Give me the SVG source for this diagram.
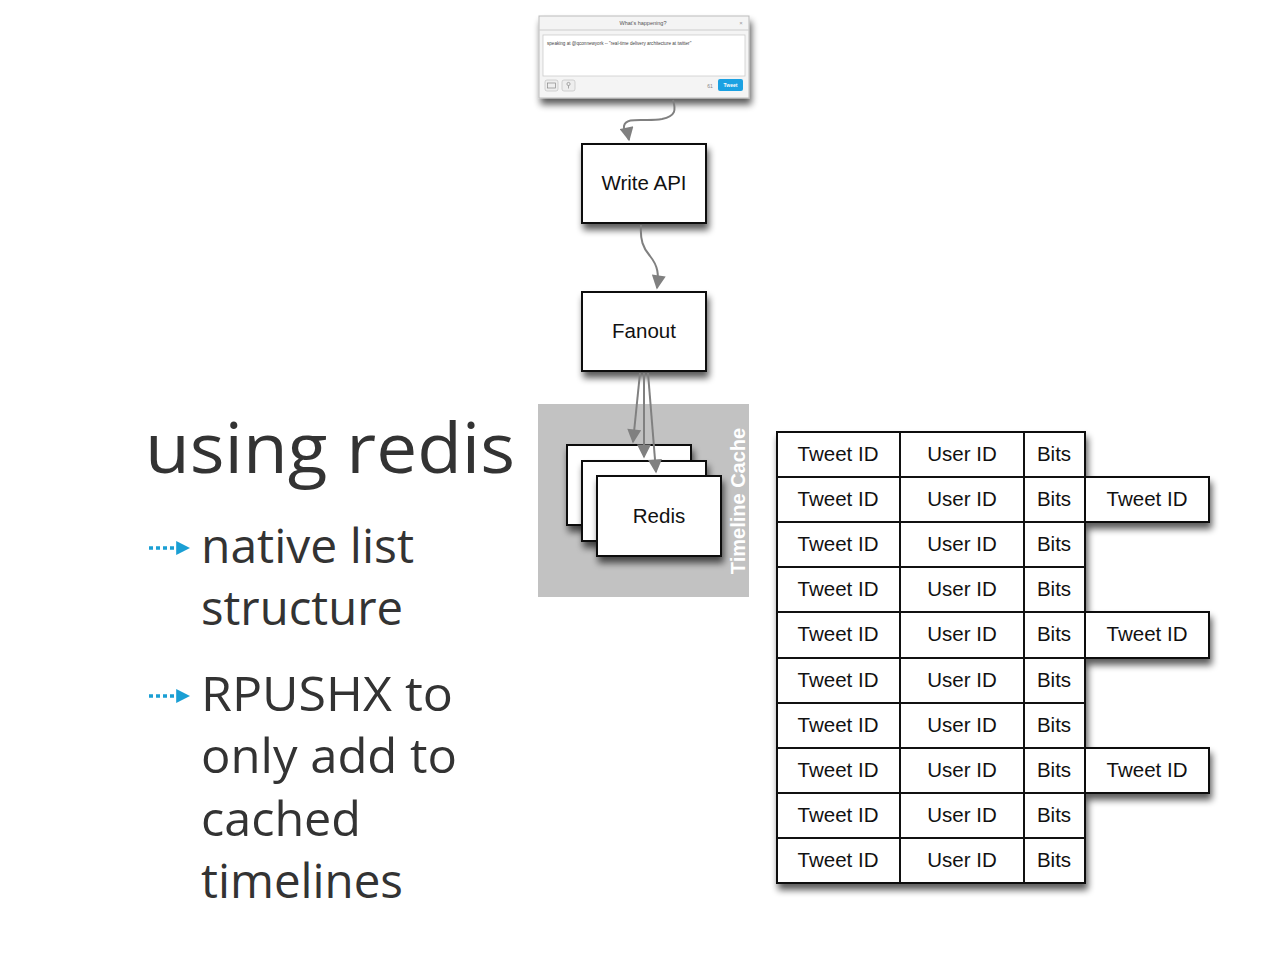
<svg xmlns="http://www.w3.org/2000/svg" width="1288" height="966" viewBox="0 0 1288 966">
<defs>
<filter id="sh" x="-20%" y="-20%" width="140%" height="150%">
<feGaussianBlur in="SourceAlpha" stdDeviation="3.5"/>
<feOffset dx="2" dy="6" result="b"/>
<feComponentTransfer><feFuncA type="linear" slope="0.65"/></feComponentTransfer>
<feMerge><feMergeNode/><feMergeNode in="SourceGraphic"/></feMerge>
</filter>
<marker id="ah" viewBox="0 0 10 10" refX="9" refY="5" markerWidth="8" markerHeight="7" orient="auto" markerUnits="strokeWidth">
<path d="M0,0 L10,5 L0,10 z" fill="#808080"/>
</marker>
<marker id="bh" viewBox="0 0 10 10" refX="2" refY="5" markerWidth="4" markerHeight="4.5" orient="auto" markerUnits="strokeWidth">
<path d="M0,0 L10,5 L0,10 z" fill="#1a9fd4"/>
</marker>
</defs>
<style>
.box{fill:#fff;stroke:#111;stroke-width:2}
.lbl{font-family:"Liberation Sans",Arial,sans-serif;font-size:20.5px;fill:#111;text-anchor:middle}
.cell{font-family:"Liberation Sans",Arial,sans-serif;font-size:20.5px;fill:#111;text-anchor:middle}
.con{fill:none;stroke:#808080;stroke-width:2;marker-end:url(#ah)}
.big{font-family:"Open Sans","DejaVu Sans",sans-serif;fill:#333}
.bul{fill:none;stroke:#1a9fd4;stroke-width:3.5;stroke-dasharray:4 3;marker-end:url(#bh)}
.tc{fill:none;stroke:#111;stroke-width:2}
</style>
<rect width="1288" height="966" fill="#fff"/>

<!-- Tweet box -->
<g id="tweetbox">
<rect x="539" y="16" width="210" height="82" fill="#f4f4f4" stroke="#bbb" stroke-width="1" filter="url(#sh)"/>
<line x1="539" y1="30" x2="749" y2="30" stroke="#ccc" stroke-width="1"/>
<text x="643" y="25" font-family="Liberation Sans,Arial,sans-serif" font-size="5.5" fill="#555" text-anchor="middle">What's happening?</text>
<text x="741" y="25" font-family="Liberation Sans,Arial,sans-serif" font-size="6" fill="#999" text-anchor="middle">×</text>
<rect x="543" y="35" width="202" height="41" fill="#fff" stroke="#ccc" stroke-width="0.8"/>
<text x="547" y="45" font-family="Liberation Sans,Arial,sans-serif" font-size="4.6" fill="#444">speaking at @qconnewyork -- "real-time delivery architecture at twitter"</text>
<rect x="545" y="80" width="13" height="11" rx="2" fill="#eee" stroke="#bbb" stroke-width="0.6"/>
<rect x="547.5" y="83" width="8" height="5" fill="none" stroke="#888" stroke-width="0.7"/>
<rect x="562" y="80" width="13" height="11" rx="2" fill="#eee" stroke="#bbb" stroke-width="0.6"/>
<circle cx="568.5" cy="84" r="1.6" fill="none" stroke="#888" stroke-width="0.7"/>
<line x1="568.5" y1="85.5" x2="568.5" y2="88.5" stroke="#888" stroke-width="0.7"/>
<text x="710" y="88" font-family="Liberation Sans,Arial,sans-serif" font-size="5" fill="#888" text-anchor="middle">61</text>
<rect x="718" y="79" width="25" height="12" rx="2" fill="#1ba1e2"/>
<text x="730.5" y="87" font-family="Liberation Sans,Arial,sans-serif" font-size="5" font-weight="bold" fill="#fff" text-anchor="middle">Tweet</text>
</g>

<!-- Write API -->
<g id="writeapi">
<rect class="box" x="582" y="144" width="124" height="79" filter="url(#sh)"/>
<text class="lbl" x="644" y="190">Write API</text>
</g>

<!-- Fanout -->
<g id="fanout">
<rect class="box" x="582" y="292" width="124" height="79" filter="url(#sh)"/>
<text class="lbl" x="644" y="338">Fanout</text>
</g>

<!-- Timeline cache -->
<g id="timelinecache">
<rect x="538" y="404" width="211" height="193" fill="#c2c2c2"/>
<text transform="translate(745,501) rotate(-90)" font-family="Liberation Sans,Arial,sans-serif" font-size="20" font-weight="bold" fill="#fff" text-anchor="middle">Timeline Cache</text>
</g>

<g id="redis">
<rect class="box" x="567" y="445" width="124" height="80" filter="url(#sh)"/>
<rect class="box" x="582" y="461" width="124" height="80" filter="url(#sh)"/>
<rect class="box" x="597" y="476" width="124" height="80" filter="url(#sh)"/>
<text class="lbl" x="659" y="523">Redis</text>
</g>

<!-- Connectors -->
<g id="connectors">
<path class="con" d="M673,100 C676,110 676,116 662,119 C645,122 626,116 624,126 C623,131 628,135 629,140"/>
<path class="con" d="M641,225 C640,240 643,248 650,256 C658,266 659,274 657,288"/>
<path class="con" d="M640,373 L633,442"/>
<path class="con" d="M644,373 L644,457"/>
<path class="con" d="M648,373 L656,472"/>
</g>

<!-- Table -->
<g id="table">
<g filter="url(#sh)">
<rect x="1085" y="477" width="124" height="45" class="box"/>
<rect x="1085" y="612" width="124" height="46" class="box"/>
<rect x="1085" y="748" width="124" height="45" class="box"/>
<rect x="777" y="432" width="308" height="451" class="box"/>
</g>
<g class="tc">
<line x1="900" y1="432" x2="900" y2="883"/>
<line x1="1024" y1="432" x2="1024" y2="883"/>
<line x1="777" y1="477" x2="1085" y2="477"/>
<line x1="777" y1="522" x2="1085" y2="522"/>
<line x1="777" y1="567" x2="1085" y2="567"/>
<line x1="777" y1="612" x2="1085" y2="612"/>
<line x1="777" y1="658" x2="1085" y2="658"/>
<line x1="777" y1="703" x2="1085" y2="703"/>
<line x1="777" y1="748" x2="1085" y2="748"/>
<line x1="777" y1="793" x2="1085" y2="793"/>
<line x1="777" y1="838" x2="1085" y2="838"/>
</g>
<g class="cell">
<text x="838" y="461">Tweet ID</text><text x="962" y="461">User ID</text><text x="1054" y="461">Bits</text>
<text x="838" y="506">Tweet ID</text><text x="962" y="506">User ID</text><text x="1054" y="506">Bits</text><text x="1147" y="506">Tweet ID</text>
<text x="838" y="551">Tweet ID</text><text x="962" y="551">User ID</text><text x="1054" y="551">Bits</text>
<text x="838" y="596">Tweet ID</text><text x="962" y="596">User ID</text><text x="1054" y="596">Bits</text>
<text x="838" y="641">Tweet ID</text><text x="962" y="641">User ID</text><text x="1054" y="641">Bits</text><text x="1147" y="641">Tweet ID</text>
<text x="838" y="687">Tweet ID</text><text x="962" y="687">User ID</text><text x="1054" y="687">Bits</text>
<text x="838" y="732">Tweet ID</text><text x="962" y="732">User ID</text><text x="1054" y="732">Bits</text>
<text x="838" y="777">Tweet ID</text><text x="962" y="777">User ID</text><text x="1054" y="777">Bits</text><text x="1147" y="777">Tweet ID</text>
<text x="838" y="822">Tweet ID</text><text x="962" y="822">User ID</text><text x="1054" y="822">Bits</text>
<text x="838" y="867">Tweet ID</text><text x="962" y="867">User ID</text><text x="1054" y="867">Bits</text>
</g>
</g>

<!-- Left text -->
<g id="title">
<text class="big" x="145" y="473" font-size="70" textLength="370" lengthAdjust="spacingAndGlyphs">using redis</text>
</g>
<g id="bullets">
<path class="bul" d="M149,548 L179,548"/>
<path class="bul" d="M149,696 L179,696"/>
<text class="big" x="201" y="563" font-size="48" textLength="213" lengthAdjust="spacingAndGlyphs">native list</text>
<text class="big" x="201" y="625" font-size="48" textLength="202" lengthAdjust="spacingAndGlyphs">structure</text>
<text class="big" x="201" y="711" font-size="48" textLength="252" lengthAdjust="spacingAndGlyphs">RPUSHX to</text>
<text class="big" x="201" y="773" font-size="48" textLength="256" lengthAdjust="spacingAndGlyphs">only add to</text>
<text class="big" x="201" y="836" font-size="48" textLength="160" lengthAdjust="spacingAndGlyphs">cached</text>
<text class="big" x="201" y="898" font-size="48" textLength="202" lengthAdjust="spacingAndGlyphs">timelines</text>
</g>
</svg>
